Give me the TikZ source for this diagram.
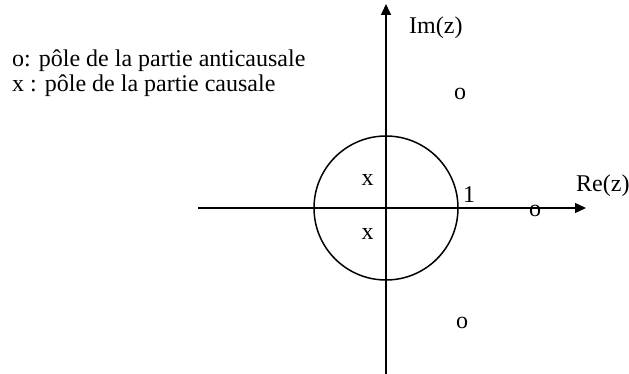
\documentclass[tikz,border=0pt]{standalone}
\usepackage{fontspec}
\setmainfont{Liberation Serif}
\usetikzlibrary{arrows.meta}
\begin{document}
\begin{tikzpicture}[x=1pt,y=-1pt,
  axis/.style={line width=1.5pt,-{Triangle[length=11pt,width=10pt]}},
  lbl/.style={inner sep=0pt,anchor=base west,font=\fontsize{24}{29}\selectfont},
  pole/.style={inner sep=0pt,anchor=base,font=\fontsize{24}{29}\selectfont}]
\useasboundingbox (0,0) rectangle (629,374);
\coordinate (O) at (386,208);
\coordinate (vb) at (386,374);
\coordinate (vt) at (386,4);
\coordinate (hl) at (198,208);
\coordinate (hr) at (586,208);
\draw[axis] (vb) -- (vt);
\draw[axis] (hl) -- (hr);
\draw[line width=1.5pt] (O) circle[radius=72];
\node[lbl] (leg1) at (12,67) {o: pôle de la partie anticausale};
\node[lbl] (leg2) at (12,92) {x : pôle de la partie causale};
\node[lbl] (im) at (409,34) {Im(z)};
\node[lbl] (re) at (576,192) {Re(z)};
\node[lbl] (one) at (463,203) {1};
\node[pole] (x1) at (367.5,186) {x};
\node[pole] (x2) at (367.5,240) {x};
\node[pole] (o1) at (460,100) {o};
\node[pole] (o2) at (462,328) {o};
\node[pole] (o3) at (535,217) {o};
\end{tikzpicture}
\end{document}
